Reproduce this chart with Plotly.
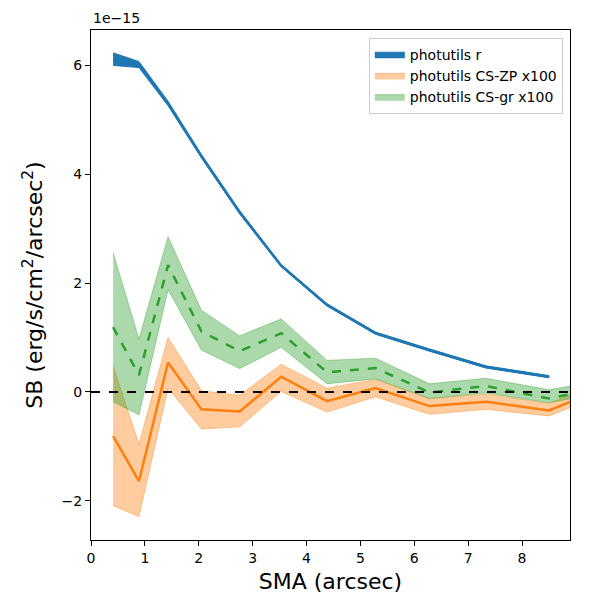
import plotly.graph_objects as go

# SMA sample points (arcsec); last one sits past the axis limit
sma = [0.41, 0.89, 1.43, 2.05, 2.76, 3.53, 4.38, 5.28, 6.28, 7.33, 8.5, 9.85]
sma_r = sma[:11]

# surface brightness in units of 1e-15 erg/s/cm^2/arcsec^2
sb_r = [6.1, 6.02, 5.3, 4.33, 3.3, 2.32, 1.6, 1.08, 0.77, 0.46, 0.28]
sb_r_lo = [6.0, 5.96, 5.26, 4.3, 3.27, 2.3, 1.58, 1.06, 0.75, 0.44, 0.26]
sb_r_hi = [6.23, 6.07, 5.34, 4.36, 3.33, 2.34, 1.62, 1.1, 0.79, 0.48, 0.3]

sb_zp = [-0.81, -1.64, 0.54, -0.32, -0.36, 0.28, -0.17, 0.07, -0.26, -0.18, -0.34, 0.2]
sb_zp_lo = [-2.09, -2.29, 0.07, -0.68, -0.64, 0.01, -0.37, -0.09, -0.41, -0.32, -0.44, 0.08]
sb_zp_hi = [0.48, -0.96, 1.0, 0.02, -0.06, 0.51, 0.07, 0.23, -0.12, -0.04, -0.21, 0.33]

sb_gr = [1.19, 0.31, 2.33, 1.11, 0.75, 1.08, 0.36, 0.44, -0.01, 0.11, -0.12, 0.15]
sb_gr_lo = [-0.18, -0.42, 1.88, 0.77, 0.43, 0.82, 0.15, 0.24, -0.12, -0.02, -0.2, 0.06]
sb_gr_hi = [2.56, 0.97, 2.85, 1.5, 1.03, 1.34, 0.58, 0.62, 0.15, 0.25, 0.04, 0.26]

BLUE = "#1f77b4"
ORANGE = "#ff7f0e"
GREEN = "#2ca02c"


def band(x, lo, hi, name, fill, edge):
    return go.Scatter(
        x=list(x) + list(x)[::-1],
        y=list(hi) + list(lo)[::-1],
        fill="toself",
        fillcolor=fill,
        line=dict(color=edge, width=1),
        mode="lines",
        name=name,
        hoverinfo="skip",
    )


fig = go.Figure()

fig.add_trace(band(sma_r, sb_r_lo, sb_r_hi, "photutils r", BLUE, BLUE))
fig.add_trace(go.Scatter(x=sma_r, y=sb_r, mode="lines",
                         line=dict(color=BLUE, width=2.5), showlegend=False))

fig.add_trace(band(sma, sb_zp_lo, sb_zp_hi, "photutils CS-ZP x100",
                   "rgba(255,127,14,0.4)", "rgba(255,127,14,0.4)"))
fig.add_trace(go.Scatter(x=sma, y=sb_zp, mode="lines",
                         line=dict(color=ORANGE, width=2.5), showlegend=False))

fig.add_trace(band(sma, sb_gr_lo, sb_gr_hi, "photutils CS-gr x100",
                   "rgba(44,160,44,0.4)", "rgba(44,160,44,0.4)"))
fig.add_trace(go.Scatter(x=sma, y=sb_gr, mode="lines",
                         line=dict(color=GREEN, width=2.5, dash="dash"), showlegend=False))

# zero reference line
fig.add_hline(y=0, line=dict(color="black", width=2, dash="dash"))

axis_style = dict(
    showline=True, linecolor="black", linewidth=1, mirror=True,
    ticks="outside", ticklen=5, tickcolor="black",
    showgrid=False, zeroline=False,
    tickfont=dict(size=14, color="black"),
)

fig.update_layout(
    width=600, height=600,
    margin=dict(l=83, r=38, t=22, b=68),
    paper_bgcolor="white", plot_bgcolor="white",
    font=dict(family="DejaVu Sans", color="black"),
    xaxis=dict(range=[0, 8.89], dtick=1,
               title=dict(text="SMA (arcsec)", font=dict(size=22), standoff=8),
               **axis_style),
    yaxis=dict(range=[-2.72, 6.65], tickvals=[-2, 0, 2, 4, 6],
               title=dict(text="SB (erg/s/cm<sup>2</sup>/arcsec<sup>2</sup>)",
                          font=dict(size=22), standoff=12),
               **axis_style),
    legend=dict(x=0.985, y=0.985, xanchor="right", yanchor="top",
                bordercolor="#cccccc", borderwidth=1, bgcolor="rgba(255,255,255,0.8)",
                font=dict(size=14)),
    annotations=[dict(text="1e\u221215", xref="paper", yref="paper", x=0, y=1,
                      xanchor="left", yanchor="bottom", showarrow=False,
                      font=dict(size=14), yshift=2)],
)

fig.write_html("out.html")
